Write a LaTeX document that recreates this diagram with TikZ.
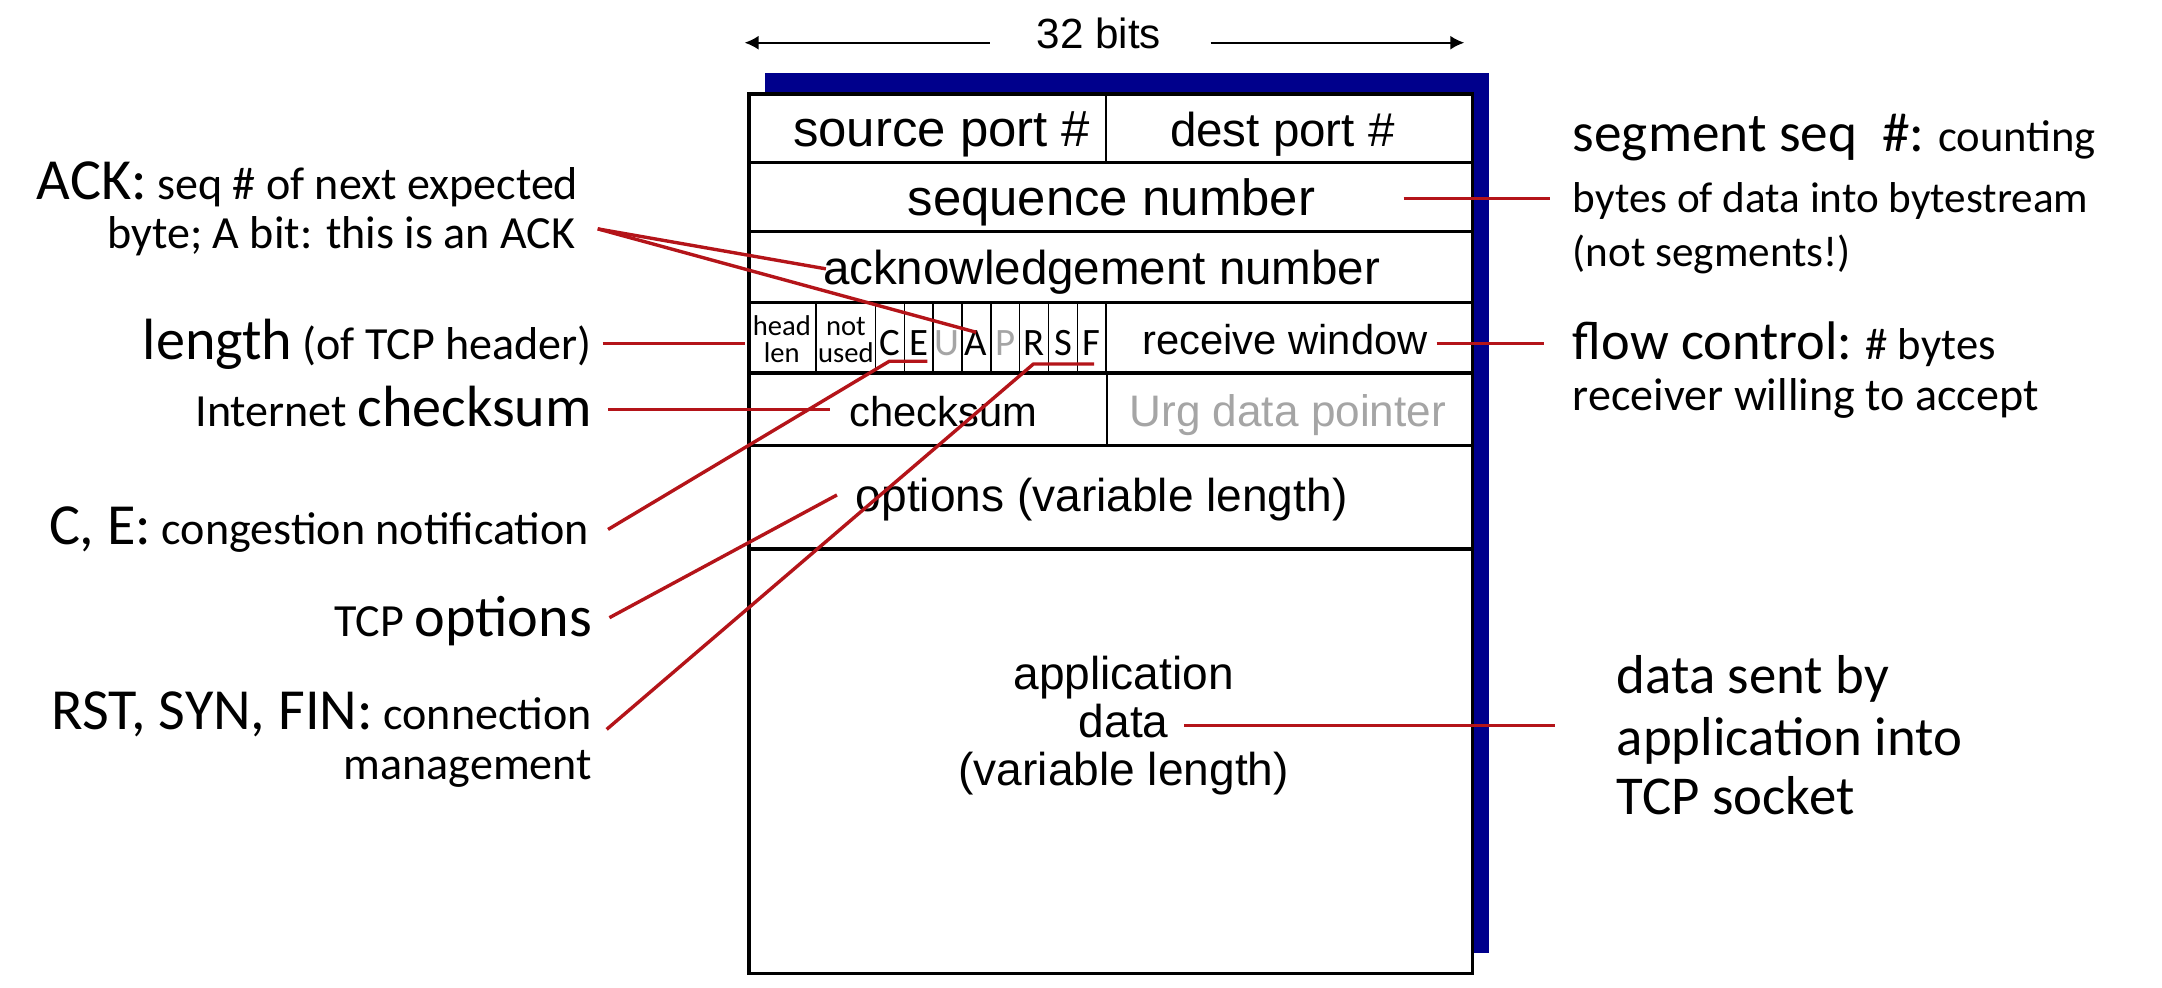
\documentclass[tikz,border=0pt]{standalone}
\usepackage{fontspec}
\setmainfont{Liberation Sans}
\newfontfamily\calib{Carlito}
\usetikzlibrary{arrows.meta}
\definecolor{navy}{RGB}{0,0,140}
\definecolor{callred}{RGB}{180,20,25}
\definecolor{flaggray}{RGB}{165,165,165}
\newcommand{\fsz}[1]{\fontsize{#1}{#1}\selectfont}
\newcommand{\Lg}[1]{{\fsz{12pt}#1}}
\begin{document}
\begin{tikzpicture}[x=0.01cm,y=-0.01cm,
  boxline/.style={line width=0.75pt,black},
  thinline/.style={line width=0.35pt,black},
  callout/.style={line width=0.7pt,callred},
  fieldtxt/.style={inner sep=0,anchor=base},
  lefttxt/.style={inner sep=0,anchor=base east,font=\calib\fsz{9.5pt}},
  righttxt/.style={inner sep=0,anchor=base west,font=\calib\fsz{9.2pt}},
  flagtxt/.style={inner sep=0,anchor=base,font=\calib\fsz{8pt}},
  tinytxt/.style={inner sep=0,anchor=base,font=\calib\fsz{5.9pt}},
  widtharrow/.style={line width=0.42pt,-{Latex[length=2.9pt,width=2.9pt]}}
]
\useasboundingbox (0,0) rectangle (1568,716.5);

% width indicator
\node[fieldtxt,font=\fsz{8.7pt}] (bits) at (797,35) {32 bits};
\coordinate (lArrS) at (718,31);
\coordinate (lArrE) at (540,31);
\coordinate (rArrS) at (878,31);
\coordinate (rArrE) at (1062,31);
\draw[widtharrow] (lArrS) -- (lArrE);
\draw[widtharrow] (rArrS) -- (rArrE);

% segment box with shadow
\fill[navy] (555,53) rectangle (1080,691);
\draw[boxline,fill=white] (543,68) rectangle (1068,706);
\foreach \yy in {118,168,219.5,270.5,323,398}
  \draw[boxline] (543,\yy) -- (1068,\yy);
\draw[line width=0.5pt] (802,68) -- (802,118);
\draw[line width=0.5pt] (803,270.5) -- (803,323);
\draw[line width=0.5pt] (802,219.5) -- (802,270.5);
\foreach \xx in {592,635,656,676.5,697.5,718.5,739.5,760.5,781.5}
  \draw[thinline] (\xx,219.5) -- (\xx,270.5);

% field texts
\node[fieldtxt,font=\fsz{10.5pt}] (src) at (683,106) {source port \#};
\node[fieldtxt,font=\fsz{9.8pt}] (dst) at (930,106) {dest port \#};
\node[fieldtxt,font=\fsz{10.5pt}] (seq) at (806,156) {sequence number};
\node[fieldtxt,font=\fsz{9.8pt}] (ack) at (799,206) {acknowledgement number};
\node[tinytxt] (head) at (567,243) {head};
\node[tinytxt] (len) at (567,263) {len};
\node[tinytxt] (notu) at (613.5,243) {not};
\node[tinytxt] (used) at (613.5,263) {used};
\node[flagtxt] (fC) at (645.5,258) {C};
\node[flagtxt] (fE) at (666.2,258) {E};
\node[flagtxt,text=flaggray] (fU) at (687,258) {U};
\node[flagtxt] (fA) at (708,258) {A};
\node[flagtxt,text=flaggray] (fP) at (729,258) {P};
\node[flagtxt] (fR) at (750,258) {R};
\node[flagtxt] (fS) at (771,258) {S};
\node[flagtxt] (fF) at (791.7,258) {F};
\node[fieldtxt,font=\fsz{8.6pt}] (rwin) at (932,257) {receive window};
\node[fieldtxt,font=\fsz{8.6pt}] (csum) at (684,309) {checksum};
\node[fieldtxt,font=\fsz{9.1pt},text=flaggray] (urg) at (934,309) {Urg data pointer};
\node[fieldtxt,font=\fsz{9.5pt}] (opts) at (799,371) {options (variable length)};
\node[fieldtxt,font=\fsz{9.5pt}] (app) at (815,500) {application};
\node[fieldtxt,font=\fsz{9.5pt}] (data) at (815,535) {data};
\node[fieldtxt,font=\fsz{9.5pt}] (varl) at (815,570) {(variable length)};

% left annotations
\node[lefttxt] (ack1) at (420,145) {\Lg{ACK:} seq \# of next expected};
\node[lefttxt] (ack2) at (418,180) {byte; A bit: this is an ACK};
\node[lefttxt] (lenlab) at (430,261) {\Lg{length} (of TCP header)};
\node[lefttxt] (cklab) at (430,309) {Internet \Lg{checksum}};
\node[lefttxt] (celab) at (428,395) {\Lg{C, E:} congestion notification};
\node[lefttxt] (optlab) at (430,462) {TCP \Lg{options}};
\node[lefttxt] (rsf1) at (430,529) {\Lg{RST, SYN, FIN:} connection};
\node[lefttxt] (rsf2) at (430,565) {management};

% right annotations
\node[righttxt] (seg1) at (1140,110) {{\fsz{11.4pt}segment seq\ \ \#:} counting};
\node[righttxt,font=\calib\fsz{8.9pt}] (seg2) at (1140,154) {bytes of data into bytestream};
\node[righttxt,font=\calib\fsz{8.9pt}] (seg3) at (1140,193) {(not segments!)};
\node[righttxt] (flow1) at (1140,261) {{\fsz{11.2pt}flow control:} \# bytes};
\node[righttxt,font=\calib\fsz{9.5pt}] (flow2) at (1140,298) {receiver willing to accept};
\node[righttxt,font=\calib\fsz{11.3pt}] (snt1) at (1172,503) {data sent by};
\node[righttxt,font=\calib\fsz{11.3pt}] (snt2) at (1172,548) {application into};
\node[righttxt,font=\calib\fsz{11.3pt}] (snt3) at (1172,591) {TCP socket};

% callout lines
\coordinate (ackS) at (433.5,166);
\coordinate (ackE1) at (599,195);
\coordinate (ackE2) at (708,241);
\coordinate (lenS) at (437,249);
\coordinate (lenE) at (540,249);
\coordinate (ckS) at (441,297);
\coordinate (ckE) at (602,297);
\coordinate (ceS) at (441,384);
\coordinate (ceM) at (645,262);
\coordinate (ceE) at (672.5,262);
\coordinate (optS) at (442,448);
\coordinate (optE) at (607,359);
\coordinate (rsfS) at (440,529);
\coordinate (rsfM) at (749.5,264);
\coordinate (rsfE) at (793.5,264);
\coordinate (rwS) at (1042,249);
\coordinate (rwE) at (1120,249);
\coordinate (seqS) at (1018,144);
\coordinate (seqE) at (1124,144);
\coordinate (dataS) at (859,526);
\coordinate (dataE) at (1128,526);

\draw[callout] (ackS) -- (ackE1);
\draw[callout] (ackS) -- (ackE2);
\draw[callout] (lenS) -- (lenE);
\draw[callout] (ckS) -- (ckE);
\draw[callout] (ceS) -- (ceM) -- (ceE);
\draw[callout] (optS) -- (optE);
\draw[callout] (rsfS) -- (rsfM) -- (rsfE);
\draw[callout] (rwS) -- (rwE);
\draw[callout] (seqS) -- (seqE);
\draw[callout] (dataS) -- (dataE);
\end{tikzpicture}
\end{document}
